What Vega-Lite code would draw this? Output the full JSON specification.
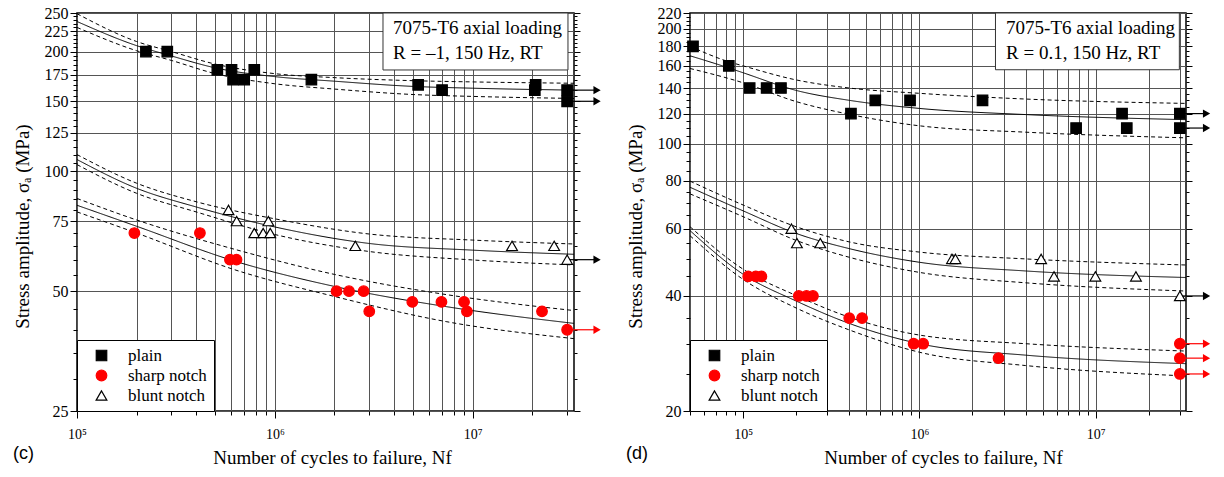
{
  "$schema": "https://vega.github.io/schema/vega-lite/v6.json",
  "background": "white",
  "padding": {"left": 12, "top": 4, "right": 5, "bottom": 5},
  "config": {
    "font": "Liberation Serif",
    "view": {"stroke": "#000", "strokeWidth": 1.5},
    "axis": {"labelFont": "Liberation Serif", "labelFontSize": 16, "labelColor": "#000", "titleFont": "Liberation Serif", "titleFontSize": 19, "titleFontWeight": "normal", "titleColor": "#000", "tickColor": "#000", "tickWidth": 1, "gridColor": "#555", "gridWidth": 1, "labelFlush": false, "labelOverlap": false, "labelBound": false, "domain": false},
    "legend": {"orient": "bottom-left", "offset": 0, "padding": 7, "strokeColor": "#000", "fillColor": "#fff", "labelFont": "Liberation Serif", "labelFontSize": 17, "labelColor": "#000", "symbolStrokeWidth": 1.2, "rowPadding": 2, "symbolOffset": 9, "labelOffset": 18},
    "title": {"font": "Liberation Sans", "fontSize": 18, "fontWeight": "normal", "color": "#000"}
  },
  "datasets": {
    "c_points": [
      {"N": 223000, "S": 200, "type": "plain", "runout": false},
      {"N": 286000, "S": 200, "type": "plain", "runout": false},
      {"N": 512000, "S": 180, "type": "plain", "runout": false},
      {"N": 604000, "S": 180, "type": "plain", "runout": false},
      {"N": 615000, "S": 170, "type": "plain", "runout": false},
      {"N": 700000, "S": 170, "type": "plain", "runout": false},
      {"N": 787000, "S": 180, "type": "plain", "runout": false},
      {"N": 1530000, "S": 170, "type": "plain", "runout": false},
      {"N": 5300000, "S": 165, "type": "plain", "runout": false},
      {"N": 7000000, "S": 160, "type": "plain", "runout": false},
      {"N": 20800000, "S": 165, "type": "plain", "runout": false},
      {"N": 20600000, "S": 160, "type": "plain", "runout": false},
      {"N": 30000000, "S": 160, "type": "plain", "runout": true},
      {"N": 30000000, "S": 150, "type": "plain", "runout": true},
      {"N": 195000, "S": 70, "type": "sharp notch", "runout": false},
      {"N": 418000, "S": 70, "type": "sharp notch", "runout": false},
      {"N": 593000, "S": 60, "type": "sharp notch", "runout": false},
      {"N": 640000, "S": 60, "type": "sharp notch", "runout": false},
      {"N": 2050000, "S": 50, "type": "sharp notch", "runout": false},
      {"N": 2370000, "S": 50, "type": "sharp notch", "runout": false},
      {"N": 2810000, "S": 50, "type": "sharp notch", "runout": false},
      {"N": 3000000, "S": 44.5, "type": "sharp notch", "runout": false},
      {"N": 4950000, "S": 47, "type": "sharp notch", "runout": false},
      {"N": 6950000, "S": 47, "type": "sharp notch", "runout": false},
      {"N": 9040000, "S": 47, "type": "sharp notch", "runout": false},
      {"N": 9350000, "S": 44.5, "type": "sharp notch", "runout": false},
      {"N": 22400000, "S": 44.5, "type": "sharp notch", "runout": false},
      {"N": 30000000, "S": 40, "type": "sharp notch", "runout": true},
      {"N": 583000, "S": 80, "type": "blunt notch", "runout": false},
      {"N": 641000, "S": 75, "type": "blunt notch", "runout": false},
      {"N": 787000, "S": 70, "type": "blunt notch", "runout": false},
      {"N": 873000, "S": 70, "type": "blunt notch", "runout": false},
      {"N": 948000, "S": 70, "type": "blunt notch", "runout": false},
      {"N": 927000, "S": 75, "type": "blunt notch", "runout": false},
      {"N": 2550000, "S": 65, "type": "blunt notch", "runout": false},
      {"N": 15800000, "S": 65, "type": "blunt notch", "runout": false},
      {"N": 25800000, "S": 65, "type": "blunt notch", "runout": false},
      {"N": 30000000, "S": 60, "type": "blunt notch", "runout": true}
    ],
    "c_curves": [
      {"curve": "plain-upper", "kind": "bound", "N": 100000, "S": 249},
      {"curve": "plain-upper", "kind": "bound", "N": 200000, "S": 212},
      {"curve": "plain-upper", "kind": "bound", "N": 300000, "S": 200},
      {"curve": "plain-upper", "kind": "bound", "N": 500000, "S": 186},
      {"curve": "plain-upper", "kind": "bound", "N": 1000000, "S": 176},
      {"curve": "plain-upper", "kind": "bound", "N": 2000000, "S": 172},
      {"curve": "plain-upper", "kind": "bound", "N": 5000000, "S": 169},
      {"curve": "plain-upper", "kind": "bound", "N": 10000000, "S": 167.8},
      {"curve": "plain-upper", "kind": "bound", "N": 32500000, "S": 166.5},
      {"curve": "plain-mean", "kind": "mean", "N": 100000, "S": 238},
      {"curve": "plain-mean", "kind": "mean", "N": 200000, "S": 207},
      {"curve": "plain-mean", "kind": "mean", "N": 300000, "S": 195},
      {"curve": "plain-mean", "kind": "mean", "N": 500000, "S": 182},
      {"curve": "plain-mean", "kind": "mean", "N": 1000000, "S": 173},
      {"curve": "plain-mean", "kind": "mean", "N": 2000000, "S": 168.5},
      {"curve": "plain-mean", "kind": "mean", "N": 5000000, "S": 163.5},
      {"curve": "plain-mean", "kind": "mean", "N": 10000000, "S": 161.8},
      {"curve": "plain-mean", "kind": "mean", "N": 32500000, "S": 160},
      {"curve": "plain-lower", "kind": "bound", "N": 100000, "S": 230},
      {"curve": "plain-lower", "kind": "bound", "N": 200000, "S": 201},
      {"curve": "plain-lower", "kind": "bound", "N": 300000, "S": 190},
      {"curve": "plain-lower", "kind": "bound", "N": 500000, "S": 176},
      {"curve": "plain-lower", "kind": "bound", "N": 1000000, "S": 166},
      {"curve": "plain-lower", "kind": "bound", "N": 2000000, "S": 161},
      {"curve": "plain-lower", "kind": "bound", "N": 5000000, "S": 156},
      {"curve": "plain-lower", "kind": "bound", "N": 10000000, "S": 154.3},
      {"curve": "plain-lower", "kind": "bound", "N": 32500000, "S": 152.5},
      {"curve": "blunt-upper", "kind": "bound", "N": 100000, "S": 110.2},
      {"curve": "blunt-upper", "kind": "bound", "N": 200000, "S": 93.4},
      {"curve": "blunt-upper", "kind": "bound", "N": 400000, "S": 83.9},
      {"curve": "blunt-upper", "kind": "bound", "N": 1000000, "S": 76},
      {"curve": "blunt-upper", "kind": "bound", "N": 3000000, "S": 69.6},
      {"curve": "blunt-upper", "kind": "bound", "N": 10000000, "S": 67.2},
      {"curve": "blunt-upper", "kind": "bound", "N": 32500000, "S": 65.7},
      {"curve": "blunt-mean", "kind": "mean", "N": 100000, "S": 107.1},
      {"curve": "blunt-mean", "kind": "mean", "N": 200000, "S": 90.7},
      {"curve": "blunt-mean", "kind": "mean", "N": 400000, "S": 81.4},
      {"curve": "blunt-mean", "kind": "mean", "N": 1000000, "S": 72.5},
      {"curve": "blunt-mean", "kind": "mean", "N": 3000000, "S": 65.9},
      {"curve": "blunt-mean", "kind": "mean", "N": 10000000, "S": 63.4},
      {"curve": "blunt-mean", "kind": "mean", "N": 32500000, "S": 61.9},
      {"curve": "blunt-lower", "kind": "bound", "N": 100000, "S": 104},
      {"curve": "blunt-lower", "kind": "bound", "N": 200000, "S": 88.1},
      {"curve": "blunt-lower", "kind": "bound", "N": 400000, "S": 79.1},
      {"curve": "blunt-lower", "kind": "bound", "N": 1000000, "S": 69.4},
      {"curve": "blunt-lower", "kind": "bound", "N": 3000000, "S": 62.9},
      {"curve": "blunt-lower", "kind": "bound", "N": 10000000, "S": 59.9},
      {"curve": "blunt-lower", "kind": "bound", "N": 32500000, "S": 58.2},
      {"curve": "sharp-upper", "kind": "bound", "N": 100000, "S": 85.5},
      {"curve": "sharp-upper", "kind": "bound", "N": 200000, "S": 75.5},
      {"curve": "sharp-upper", "kind": "bound", "N": 620000, "S": 63.8},
      {"curve": "sharp-upper", "kind": "bound", "N": 2000000, "S": 55.1},
      {"curve": "sharp-upper", "kind": "bound", "N": 7400000, "S": 49},
      {"curve": "sharp-upper", "kind": "bound", "N": 32500000, "S": 44.7},
      {"curve": "sharp-mean", "kind": "mean", "N": 100000, "S": 82.2},
      {"curve": "sharp-mean", "kind": "mean", "N": 200000, "S": 72.8},
      {"curve": "sharp-mean", "kind": "mean", "N": 620000, "S": 59.6},
      {"curve": "sharp-mean", "kind": "mean", "N": 2000000, "S": 51.4},
      {"curve": "sharp-mean", "kind": "mean", "N": 7400000, "S": 45.7},
      {"curve": "sharp-mean", "kind": "mean", "N": 32500000, "S": 41.5},
      {"curve": "sharp-lower", "kind": "bound", "N": 100000, "S": 79.1},
      {"curve": "sharp-lower", "kind": "bound", "N": 200000, "S": 70},
      {"curve": "sharp-lower", "kind": "bound", "N": 620000, "S": 56.7},
      {"curve": "sharp-lower", "kind": "bound", "N": 2000000, "S": 48.5},
      {"curve": "sharp-lower", "kind": "bound", "N": 7400000, "S": 41.9},
      {"curve": "sharp-lower", "kind": "bound", "N": 32500000, "S": 38}
    ],
    "d_points": [
      {"N": 52000, "S": 180, "type": "plain", "runout": false},
      {"N": 83000, "S": 160, "type": "plain", "runout": false},
      {"N": 109000, "S": 140, "type": "plain", "runout": false},
      {"N": 136000, "S": 140, "type": "plain", "runout": false},
      {"N": 164000, "S": 140, "type": "plain", "runout": false},
      {"N": 409000, "S": 120, "type": "plain", "runout": false},
      {"N": 562000, "S": 130, "type": "plain", "runout": false},
      {"N": 885000, "S": 130, "type": "plain", "runout": false},
      {"N": 2280000, "S": 130, "type": "plain", "runout": false},
      {"N": 7740000, "S": 110, "type": "plain", "runout": false},
      {"N": 14100000, "S": 120, "type": "plain", "runout": false},
      {"N": 15000000, "S": 110, "type": "plain", "runout": false},
      {"N": 30000000, "S": 120, "type": "plain", "runout": true},
      {"N": 30000000, "S": 110, "type": "plain", "runout": true},
      {"N": 107000, "S": 45, "type": "sharp notch", "runout": false},
      {"N": 118000, "S": 45, "type": "sharp notch", "runout": false},
      {"N": 127000, "S": 45, "type": "sharp notch", "runout": false},
      {"N": 207000, "S": 40, "type": "sharp notch", "runout": false},
      {"N": 229000, "S": 40, "type": "sharp notch", "runout": false},
      {"N": 249000, "S": 40, "type": "sharp notch", "runout": false},
      {"N": 400000, "S": 35, "type": "sharp notch", "runout": false},
      {"N": 473000, "S": 35, "type": "sharp notch", "runout": false},
      {"N": 927000, "S": 30, "type": "sharp notch", "runout": false},
      {"N": 1050000, "S": 30, "type": "sharp notch", "runout": false},
      {"N": 2810000, "S": 27.5, "type": "sharp notch", "runout": false},
      {"N": 30000000, "S": 30, "type": "sharp notch", "runout": true},
      {"N": 30000000, "S": 27.5, "type": "sharp notch", "runout": true},
      {"N": 30000000, "S": 25, "type": "sharp notch", "runout": true},
      {"N": 188000, "S": 60, "type": "blunt notch", "runout": false},
      {"N": 202000, "S": 55, "type": "blunt notch", "runout": false},
      {"N": 274000, "S": 55, "type": "blunt notch", "runout": false},
      {"N": 1530000, "S": 50, "type": "blunt notch", "runout": false},
      {"N": 1600000, "S": 50, "type": "blunt notch", "runout": false},
      {"N": 4900000, "S": 50, "type": "blunt notch", "runout": false},
      {"N": 5800000, "S": 45, "type": "blunt notch", "runout": false},
      {"N": 9950000, "S": 45, "type": "blunt notch", "runout": false},
      {"N": 16900000, "S": 45, "type": "blunt notch", "runout": false},
      {"N": 30000000, "S": 40, "type": "blunt notch", "runout": true}
    ],
    "d_curves": [
      {"curve": "plain-upper", "kind": "bound", "N": 50000, "S": 180},
      {"curve": "plain-upper", "kind": "bound", "N": 83000, "S": 164},
      {"curve": "plain-upper", "kind": "bound", "N": 100000, "S": 160},
      {"curve": "plain-upper", "kind": "bound", "N": 200000, "S": 147},
      {"curve": "plain-upper", "kind": "bound", "N": 400000, "S": 140},
      {"curve": "plain-upper", "kind": "bound", "N": 1000000, "S": 135.6},
      {"curve": "plain-upper", "kind": "bound", "N": 4000000, "S": 131},
      {"curve": "plain-upper", "kind": "bound", "N": 32500000, "S": 127.6},
      {"curve": "plain-mean", "kind": "mean", "N": 50000, "S": 170},
      {"curve": "plain-mean", "kind": "mean", "N": 83000, "S": 158},
      {"curve": "plain-mean", "kind": "mean", "N": 100000, "S": 153.5},
      {"curve": "plain-mean", "kind": "mean", "N": 200000, "S": 138},
      {"curve": "plain-mean", "kind": "mean", "N": 400000, "S": 130},
      {"curve": "plain-mean", "kind": "mean", "N": 1000000, "S": 123.8},
      {"curve": "plain-mean", "kind": "mean", "N": 4000000, "S": 119.3},
      {"curve": "plain-mean", "kind": "mean", "N": 32500000, "S": 115.7},
      {"curve": "plain-lower", "kind": "bound", "N": 50000, "S": 157.5},
      {"curve": "plain-lower", "kind": "bound", "N": 100000, "S": 144.5},
      {"curve": "plain-lower", "kind": "bound", "N": 200000, "S": 129},
      {"curve": "plain-lower", "kind": "bound", "N": 400000, "S": 119.5},
      {"curve": "plain-lower", "kind": "bound", "N": 1000000, "S": 111.5},
      {"curve": "plain-lower", "kind": "bound", "N": 4000000, "S": 107.3},
      {"curve": "plain-lower", "kind": "bound", "N": 32500000, "S": 103.7},
      {"curve": "blunt-upper", "kind": "bound", "N": 50000, "S": 79.9},
      {"curve": "blunt-upper", "kind": "bound", "N": 100000, "S": 69.2},
      {"curve": "blunt-upper", "kind": "bound", "N": 200000, "S": 60.7},
      {"curve": "blunt-upper", "kind": "bound", "N": 400000, "S": 55.4},
      {"curve": "blunt-upper", "kind": "bound", "N": 1000000, "S": 52.1},
      {"curve": "blunt-upper", "kind": "bound", "N": 4000000, "S": 50},
      {"curve": "blunt-upper", "kind": "bound", "N": 32500000, "S": 48.2},
      {"curve": "blunt-mean", "kind": "mean", "N": 50000, "S": 77},
      {"curve": "blunt-mean", "kind": "mean", "N": 100000, "S": 66.8},
      {"curve": "blunt-mean", "kind": "mean", "N": 200000, "S": 58.3},
      {"curve": "blunt-mean", "kind": "mean", "N": 400000, "S": 53.2},
      {"curve": "blunt-mean", "kind": "mean", "N": 1000000, "S": 49},
      {"curve": "blunt-mean", "kind": "mean", "N": 4000000, "S": 46.5},
      {"curve": "blunt-mean", "kind": "mean", "N": 32500000, "S": 44.7},
      {"curve": "blunt-lower", "kind": "bound", "N": 50000, "S": 74},
      {"curve": "blunt-lower", "kind": "bound", "N": 100000, "S": 64.5},
      {"curve": "blunt-lower", "kind": "bound", "N": 200000, "S": 55.9},
      {"curve": "blunt-lower", "kind": "bound", "N": 400000, "S": 50.5},
      {"curve": "blunt-lower", "kind": "bound", "N": 1000000, "S": 46.1},
      {"curve": "blunt-lower", "kind": "bound", "N": 4000000, "S": 43.3},
      {"curve": "blunt-lower", "kind": "bound", "N": 32500000, "S": 41.2},
      {"curve": "sharp-upper", "kind": "bound", "N": 50000, "S": 60.7},
      {"curve": "sharp-upper", "kind": "bound", "N": 100000, "S": 47},
      {"curve": "sharp-upper", "kind": "bound", "N": 200000, "S": 40.1},
      {"curve": "sharp-upper", "kind": "bound", "N": 400000, "S": 35.2},
      {"curve": "sharp-upper", "kind": "bound", "N": 1000000, "S": 31.6},
      {"curve": "sharp-upper", "kind": "bound", "N": 4000000, "S": 30},
      {"curve": "sharp-upper", "kind": "bound", "N": 32500000, "S": 28.7},
      {"curve": "sharp-mean", "kind": "mean", "N": 50000, "S": 59.3},
      {"curve": "sharp-mean", "kind": "mean", "N": 100000, "S": 45.6},
      {"curve": "sharp-mean", "kind": "mean", "N": 200000, "S": 38.8},
      {"curve": "sharp-mean", "kind": "mean", "N": 400000, "S": 33.9},
      {"curve": "sharp-mean", "kind": "mean", "N": 1000000, "S": 30},
      {"curve": "sharp-mean", "kind": "mean", "N": 4000000, "S": 28},
      {"curve": "sharp-mean", "kind": "mean", "N": 32500000, "S": 26.6},
      {"curve": "sharp-lower", "kind": "bound", "N": 50000, "S": 57.5},
      {"curve": "sharp-lower", "kind": "bound", "N": 100000, "S": 44.2},
      {"curve": "sharp-lower", "kind": "bound", "N": 200000, "S": 37.2},
      {"curve": "sharp-lower", "kind": "bound", "N": 400000, "S": 32.6},
      {"curve": "sharp-lower", "kind": "bound", "N": 1000000, "S": 28.5},
      {"curve": "sharp-lower", "kind": "bound", "N": 4000000, "S": 26.3},
      {"curve": "sharp-lower", "kind": "bound", "N": 32500000, "S": 24.7}
    ]
  },
  "spacing": 116,
  "bounds": "flush",
  "resolve": {
    "scale": {"x": "independent", "y": "independent", "shape": "independent", "fill": "independent", "stroke": "independent", "color": "independent", "strokeDash": "independent", "size": "independent"}
  },
  "hconcat": [
    {
      "width": 497,
      "height": 398,
      "title": {"text": "(c)", "orient": "bottom", "anchor": "start", "frame": "bounds", "offset": -22},
      "resolve": {"axis": {"x": "independent", "y": "independent"}},
      "layer": [
        {
          "data": {"values": [{}]},
          "mark": {"type": "rect", "fill": "#fff", "stroke": "#333", "strokeWidth": 1},
          "encoding": {
            "x": {"datum": 3520000, "type": "quantitative", "scale": {"type": "log", "domain": [100000, 32500000], "nice": false}, "axis": null},
            "x2": {"datum": 30300000},
            "y": {"datum": 250, "type": "quantitative", "scale": {"type": "log", "domain": [25, 250], "nice": false}, "axis": null},
            "y2": {"datum": 179.8}
          }
        },
        {
          "data": {"values": [{}]},
          "mark": {"type": "text", "text": ["7075-T6 axial loading", "R = \u20131, 150 Hz, RT"], "align": "left", "baseline": "alphabetic", "font": "Liberation Serif", "fontSize": 19, "lineHeight": 25, "color": "#000"},
          "encoding": {
            "x": {"datum": 3960000, "type": "quantitative", "scale": {"type": "log", "domain": [100000, 32500000], "nice": false}, "axis": null},
            "y": {"datum": 221.4, "type": "quantitative", "scale": {"type": "log", "domain": [25, 250], "nice": false}, "axis": null}
          }
        },
        {
          "data": {"name": "c_curves"},
          "mark": {"type": "line", "interpolate": "monotone", "color": "#000", "strokeWidth": 1},
          "encoding": {
            "x": {"field": "N", "type": "quantitative", "scale": {"type": "log", "domain": [100000, 32500000], "nice": false}, "axis": null},
            "y": {"field": "S", "type": "quantitative", "scale": {"type": "log", "domain": [25, 250], "nice": false},
              "axis": {"orient": "right", "labels": false, "grid": false, "title": null, "values": [25,30,35,40,45,50,55,60,65,70,75,80,85,90,95,100,105,110,115,120,125,130,135,140,145,150,155,160,165,170,175,180,185,190,195,200,205,210,215,220,225,230,235,240,245,250],
                "tickSize": {"condition": {"test": "datum.value % 25 == 0", "value": 6}, "value": 3}}},
            "detail": {"field": "curve"},
            "strokeDash": {"field": "kind", "type": "nominal", "scale": {"domain": ["mean", "bound"], "range": [[1, 0], [4, 3]]}, "legend": null}
          }
        },
        {
          "data": {"name": "c_points"},
          "transform": [{"filter": "datum.runout"}],
          "mark": {"type": "rule", "strokeWidth": 1.2},
          "encoding": {
            "x": {"field": "N", "type": "quantitative", "scale": {"type": "log", "domain": [100000, 32500000], "nice": false}, "axis": null},
            "x2": {"datum": 42000000},
            "y": {"field": "S", "type": "quantitative", "scale": {"type": "log", "domain": [25, 250], "nice": false}, "axis": null},
            "color": {"field": "type", "type": "nominal", "scale": {"domain": ["sharp notch", "plain", "blunt notch"], "range": ["#ff0000", "#000", "#000"]}, "legend": null}
          }
        },
        {
          "data": {"name": "c_points"},
          "transform": [{"filter": "datum.runout"}],
          "mark": {"type": "point", "shape": "triangle-right", "filled": true, "size": 70, "opacity": 1},
          "encoding": {
            "x": {"datum": 42500000, "type": "quantitative", "scale": {"type": "log", "domain": [100000, 32500000], "nice": false}, "axis": null},
            "y": {"field": "S", "type": "quantitative", "scale": {"type": "log", "domain": [25, 250], "nice": false}, "axis": null},
            "color": {"field": "type", "type": "nominal", "scale": {"domain": ["sharp notch", "plain", "blunt notch"], "range": ["#ff0000", "#000", "#000"]}, "legend": null}
          }
        },
        {
          "data": {"name": "c_points"},
          "mark": {"type": "point", "filled": true, "strokeWidth": 1.2, "opacity": 1},
          "encoding": {
            "x": {"field": "N", "type": "quantitative", "scale": {"type": "log", "domain": [100000, 32500000], "nice": false},
              "axis": {"orient": "bottom", "grid": true, "title": "Number of cycles to failure, Nf", "titleX": 255, "titlePadding": 7, "labelFontSize": 14, "labelPadding": 9,
                "values": [100000,200000,300000,400000,500000,600000,700000,800000,900000,1000000,2000000,3000000,4000000,5000000,6000000,7000000,8000000,9000000,10000000,20000000,30000000],
                "labelExpr": "datum.value == 100000 ? '10\u2075' : datum.value == 1000000 ? '10\u2076' : datum.value == 10000000 ? '10\u2077' : ''",
                "tickSize": {"condition": {"test": "datum.value == 100000 || datum.value == 1000000 || datum.value == 10000000", "value": 7}, "value": 4}}},
            "y": {"field": "S", "type": "quantitative", "scale": {"type": "log", "domain": [25, 250], "nice": false},
              "axis": {"orient": "left", "grid": true, "title": "Stress amplitude,  \u03c3\u2090 (MPa)", "titleY": 213, "titlePadding": 12, "labelPadding": 2,
                "values": [25,30,35,40,45,50,55,60,65,70,75,80,85,90,95,100,105,110,115,120,125,130,135,140,145,150,155,160,165,170,175,180,185,190,195,200,205,210,215,220,225,230,235,240,245,250],
                "labelExpr": "datum.value % 25 == 0 ? '' + datum.value : ''",
                "gridOpacity": {"condition": {"test": "datum.value % 25 == 0", "value": 1}, "value": 0},
                "tickSize": {"condition": {"test": "datum.value % 25 == 0", "value": 7}, "value": 4}}},
            "shape": {"field": "type", "type": "nominal", "scale": {"domain": ["plain", "sharp notch", "blunt notch"], "range": ["square", "circle", "triangle-up"]}, "legend": {"title": null}},
            "fill": {"field": "type", "type": "nominal", "scale": {"domain": ["plain", "sharp notch", "blunt notch"], "range": ["#000", "#ff0000", "#fff"]}, "legend": {"title": null}},
            "stroke": {"field": "type", "type": "nominal", "scale": {"domain": ["plain", "sharp notch", "blunt notch"], "range": ["#000", "#ff0000", "#000"]}, "legend": {"title": null}},
            "size": {"field": "type", "type": "nominal", "scale": {"domain": ["plain", "sharp notch", "blunt notch"], "range": [110, 115, 150]}, "legend": {"title": null}}
          }
        }
      ]
    },
    {
      "width": 496,
      "height": 398,
      "title": {"text": "(d)", "orient": "bottom", "anchor": "start", "frame": "bounds", "offset": -22},
      "resolve": {"axis": {"x": "independent", "y": "independent"}},
      "layer": [
        {
          "data": {"values": [{}]},
          "mark": {"type": "rect", "fill": "#fff", "stroke": "#333", "strokeWidth": 1},
          "encoding": {
            "x": {"datum": 2700000, "type": "quantitative", "scale": {"type": "log", "domain": [50000, 32500000], "nice": false}, "axis": null},
            "x2": {"datum": 29800000},
            "y": {"datum": 220, "type": "quantitative", "scale": {"type": "log", "domain": [20, 220], "nice": false}, "axis": null},
            "y2": {"datum": 156.3}
          }
        },
        {
          "data": {"values": [{}]},
          "mark": {"type": "text", "text": ["7075-T6 axial loading", "R = 0.1, 150 Hz, RT"], "align": "left", "baseline": "alphabetic", "font": "Liberation Serif", "fontSize": 19, "lineHeight": 25, "color": "#000"},
          "encoding": {
            "x": {"datum": 3100000, "type": "quantitative", "scale": {"type": "log", "domain": [50000, 32500000], "nice": false}, "axis": null},
            "y": {"datum": 194.2, "type": "quantitative", "scale": {"type": "log", "domain": [20, 220], "nice": false}, "axis": null}
          }
        },
        {
          "data": {"name": "d_curves"},
          "mark": {"type": "line", "interpolate": "monotone", "color": "#000", "strokeWidth": 1},
          "encoding": {
            "x": {"field": "N", "type": "quantitative", "scale": {"type": "log", "domain": [50000, 32500000], "nice": false}, "axis": null},
            "y": {"field": "S", "type": "quantitative", "scale": {"type": "log", "domain": [20, 220], "nice": false},
              "axis": {"orient": "right", "labels": false, "grid": false, "title": null, "values": [20,25,30,35,40,45,50,55,60,65,70,75,80,85,90,95,100,105,110,115,120,125,130,135,140,145,150,155,160,165,170,175,180,185,190,195,200,205,210,215,220],
                "tickSize": {"condition": {"test": "datum.value % 20 == 0", "value": 6}, "value": 3}}},
            "detail": {"field": "curve"},
            "strokeDash": {"field": "kind", "type": "nominal", "scale": {"domain": ["mean", "bound"], "range": [[1, 0], [4, 3]]}, "legend": null}
          }
        },
        {
          "data": {"name": "d_points"},
          "transform": [{"filter": "datum.runout"}],
          "mark": {"type": "rule", "strokeWidth": 1.2},
          "encoding": {
            "x": {"field": "N", "type": "quantitative", "scale": {"type": "log", "domain": [50000, 32500000], "nice": false}, "axis": null},
            "x2": {"datum": 42000000},
            "y": {"field": "S", "type": "quantitative", "scale": {"type": "log", "domain": [20, 220], "nice": false}, "axis": null},
            "color": {"field": "type", "type": "nominal", "scale": {"domain": ["sharp notch", "plain", "blunt notch"], "range": ["#ff0000", "#000", "#000"]}, "legend": null}
          }
        },
        {
          "data": {"name": "d_points"},
          "transform": [{"filter": "datum.runout"}],
          "mark": {"type": "point", "shape": "triangle-right", "filled": true, "size": 70, "opacity": 1},
          "encoding": {
            "x": {"datum": 42500000, "type": "quantitative", "scale": {"type": "log", "domain": [50000, 32500000], "nice": false}, "axis": null},
            "y": {"field": "S", "type": "quantitative", "scale": {"type": "log", "domain": [20, 220], "nice": false}, "axis": null},
            "color": {"field": "type", "type": "nominal", "scale": {"domain": ["sharp notch", "plain", "blunt notch"], "range": ["#ff0000", "#000", "#000"]}, "legend": null}
          }
        },
        {
          "data": {"name": "d_points"},
          "mark": {"type": "point", "filled": true, "strokeWidth": 1.2, "opacity": 1},
          "encoding": {
            "x": {"field": "N", "type": "quantitative", "scale": {"type": "log", "domain": [50000, 32500000], "nice": false},
              "axis": {"orient": "bottom", "grid": true, "title": "Number of cycles to failure, Nf", "titleX": 253, "titlePadding": 7, "labelFontSize": 14, "labelPadding": 9,
                "values": [50000,60000,70000,80000,90000,100000,200000,300000,400000,500000,600000,700000,800000,900000,1000000,2000000,3000000,4000000,5000000,6000000,7000000,8000000,9000000,10000000,20000000,30000000],
                "labelExpr": "datum.value == 100000 ? '10\u2075' : datum.value == 1000000 ? '10\u2076' : datum.value == 10000000 ? '10\u2077' : ''",
                "tickSize": {"condition": {"test": "datum.value == 100000 || datum.value == 1000000 || datum.value == 10000000", "value": 7}, "value": 4}}},
            "y": {"field": "S", "type": "quantitative", "scale": {"type": "log", "domain": [20, 220], "nice": false},
              "axis": {"orient": "left", "grid": true, "title": "Stress amplitude,  \u03c3\u2090 (MPa)", "titleY": 213, "titlePadding": 12, "labelPadding": 2,
                "values": [20,25,30,35,40,45,50,55,60,65,70,75,80,85,90,95,100,105,110,115,120,125,130,135,140,145,150,155,160,165,170,175,180,185,190,195,200,205,210,215,220],
                "labelExpr": "datum.value % 20 == 0 ? '' + datum.value : ''",
                "gridOpacity": {"condition": {"test": "datum.value % 20 == 0", "value": 1}, "value": 0},
                "tickSize": {"condition": {"test": "datum.value % 20 == 0", "value": 7}, "value": 4}}},
            "shape": {"field": "type", "type": "nominal", "scale": {"domain": ["plain", "sharp notch", "blunt notch"], "range": ["square", "circle", "triangle-up"]}, "legend": {"title": null}},
            "fill": {"field": "type", "type": "nominal", "scale": {"domain": ["plain", "sharp notch", "blunt notch"], "range": ["#000", "#ff0000", "#fff"]}, "legend": {"title": null}},
            "stroke": {"field": "type", "type": "nominal", "scale": {"domain": ["plain", "sharp notch", "blunt notch"], "range": ["#000", "#ff0000", "#000"]}, "legend": {"title": null}},
            "size": {"field": "type", "type": "nominal", "scale": {"domain": ["plain", "sharp notch", "blunt notch"], "range": [110, 115, 150]}, "legend": {"title": null}}
          }
        }
      ]
    }
  ]
}
